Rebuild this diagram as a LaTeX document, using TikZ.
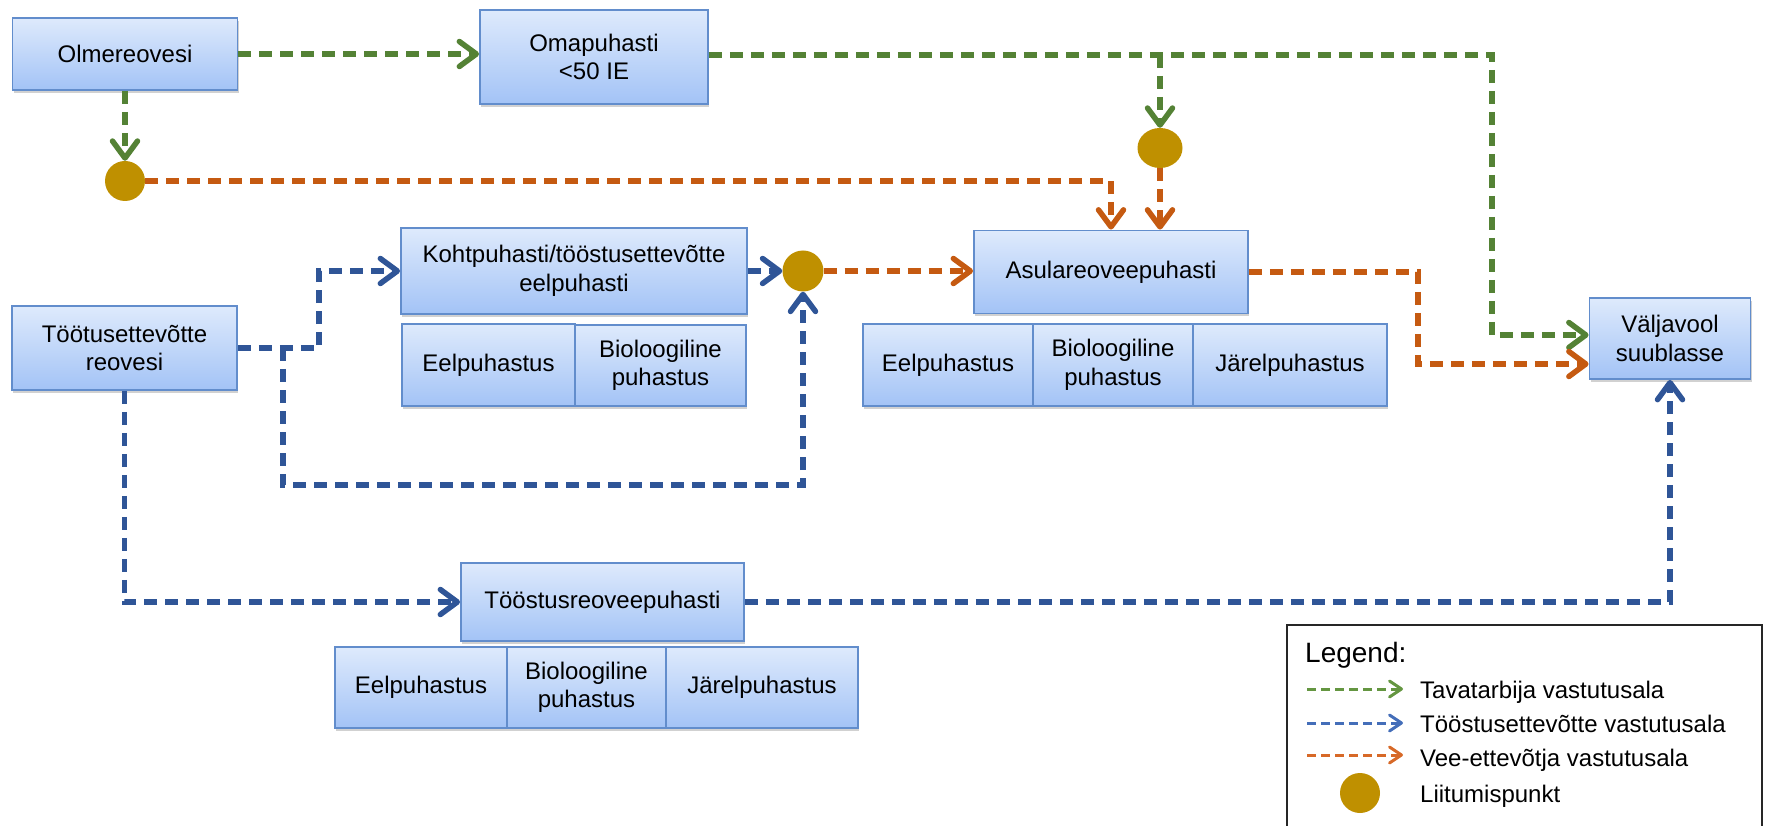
\documentclass[tikz,border=0pt]{standalone}
\usepackage{fontspec}
\setmainfont{Liberation Sans}
\usetikzlibrary{arrows.meta,shadows,shapes.geometric}
\definecolor{cgreen}{RGB}{84,130,53}
\definecolor{cblue}{RGB}{47,85,151}
\definecolor{corange}{RGB}{197,90,17}
\definecolor{lgreen}{RGB}{100,150,65}
\definecolor{lblue}{RGB}{68,110,185}
\definecolor{lorange}{RGB}{215,105,40}
\definecolor{cdot}{RGB}{191,144,0}
\definecolor{boxtop}{RGB}{222,234,252}
\definecolor{boxbot}{RGB}{163,195,246}
\definecolor{boxline}{RGB}{98,141,204}
\begin{document}
\begin{tikzpicture}[x=1pt,y=-1pt,
  box/.style={draw=boxline, line width=1.8pt, top color=boxtop, bottom color=boxbot,
    align=center, inner sep=0pt, font=\fontsize{24}{28.5}\selectfont,
    drop shadow={shadow xshift=1pt, shadow yshift=-3pt, opacity=0.3, fill=black!60}},
  jdot/.style={circle, fill=cdot, inner sep=0pt, minimum size=40pt},
  flow/.style={line width=5.5pt, dash pattern=on 13pt off 8pt,
    -{Straight Barb[length=17pt,width=25pt,round]}},
  gflow/.style={flow, draw=cgreen},
  bflow/.style={flow, draw=cblue},
  oflow/.style={flow, draw=corange},
  lflow/.style={line width=3pt, dash pattern=on 9pt off 5pt,
    -{Straight Barb[length=12pt,width=16pt,round]}},
  ltext/.style={anchor=base west, inner sep=0pt, font=\fontsize{24}{28.5}\selectfont}
]
\useasboundingbox (0,0) rectangle (1765,826);

% main boxes
\node[box, minimum width=225pt, minimum height=72pt] (olme) at (125,54) {Olmereovesi};
\node[box, minimum width=228pt, minimum height=94pt] (oma) at (594,57) {Omapuhasti\\<50 IE};
\node[box, minimum width=346pt, minimum height=86pt] (koht) at (574,271) {Kohtpuhasti/tööstusettevõtte\\eelpuhasti};
\node[box, minimum width=274pt, minimum height=83pt] (asula) at (1111,272) {Asulareoveepuhasti};
\node[box, minimum width=161pt, minimum height=81pt] (valj) at (1670,338.5) {Väljavool\\suublasse};
\node[box, minimum width=225pt, minimum height=84pt] (toot) at (124.5,348) {Töötusettevõtte\\reovesi};
\node[box, minimum width=283pt, minimum height=78pt] (tsr) at (602.5,602) {Tööstusreoveepuhasti};

% sub boxes
\node[box, minimum width=173pt, minimum height=82pt] (k1) at (488.5,365) {Eelpuhastus};
\node[box, minimum width=171pt, minimum height=81pt] (k2) at (660.5,365.5) {Bioloogiline\\puhastus};
\node[box, minimum width=170pt, minimum height=82pt] (a1) at (948,365) {Eelpuhastus};
\node[box, minimum width=160pt, minimum height=82pt] (a2) at (1113,365) {Bioloogiline\\puhastus};
\node[box, minimum width=194pt, minimum height=82pt] (a3) at (1290,365) {Järelpuhastus};
\node[box, minimum width=172pt, minimum height=81pt] (t1) at (421,687.5) {Eelpuhastus};
\node[box, minimum width=159pt, minimum height=81pt] (t2) at (586.5,687.5) {Bioloogiline\\puhastus};
\node[box, minimum width=192pt, minimum height=81pt] (t3) at (762,687.5) {Järelpuhastus};

% junction points
\node[jdot] (c1) at (125,181) {};
\node[ellipse, fill=cdot, inner sep=0pt, minimum width=45pt, minimum height=40pt] (c2) at (1160,148) {};
\node[jdot, minimum size=41pt] (c3) at (803,271) {};

% helper coordinates
\coordinate (gtr) at (1492,55);
\coordinate (vg) at ([yshift=3.5pt]valj.west);
\coordinate (vo) at ([yshift=-25.5pt]valj.west);
\coordinate (oj) at (1418,0);
\coordinate (bj) at (319,0);
\coordinate (bl) at (283,485);

% green
\draw[gflow] (olme.east) -- (oma.west |- olme.east);
\draw[gflow] (olme.south) -- (c1.north);
\draw[gflow] (oma.east |- gtr) -- (gtr) |- (vg);
\draw[gflow] (c2 |- gtr) -- (c2.north);

% orange
\draw[oflow] (c1.east) -| (asula.north);
\draw[oflow] (c2.south) -- (c2.south |- asula.north);
\draw[oflow] (c3.east) -- (asula.west |- c3.east);
\draw[oflow] (asula.east) -- (asula.east -| oj) |- (vo);

% blue
\draw[bflow] (koht.east) -- (c3.west);
\draw[bflow] (toot.east) -- (bj |- toot.east) |- (koht.west);
\draw[bflow] (bl |- toot.east) -- (bl) -| (c3.south);
\draw[bflow] (toot.south) |- (tsr.west);
\draw[bflow] (tsr.east) -| (valj.south);

% legend
\draw[line width=1.3pt, black!85] (1287,830) -- (1287,625) -- (1762,625) -- (1762,830);
\node[anchor=base west, inner sep=0pt, font=\fontsize{28}{32}\selectfont] (ltitle) at (1305,662) {Legend:};
\coordinate (lg1) at (1307,689); \coordinate (lg2) at (1403,689);
\coordinate (lb1) at (1307,723); \coordinate (lb2) at (1403,723);
\coordinate (lo1) at (1307,755); \coordinate (lo2) at (1403,755);
\draw[lflow, draw=lgreen] (lg1) -- (lg2);
\draw[lflow, draw=lblue] (lb1) -- (lb2);
\draw[lflow, draw=lorange] (lo1) -- (lo2);
\node[jdot] (ldot) at (1360,793) {};
\node[ltext] (lt1) at (1420,698) {Tavatarbija vastutusala};
\node[ltext] (lt2) at (1420,732) {Tööstusettevõtte vastutusala};
\node[ltext] (lt3) at (1420,766) {Vee-ettevõtja vastutusala};
\node[ltext] (lt4) at (1420,802) {Liitumispunkt};
\end{tikzpicture}
\end{document}
